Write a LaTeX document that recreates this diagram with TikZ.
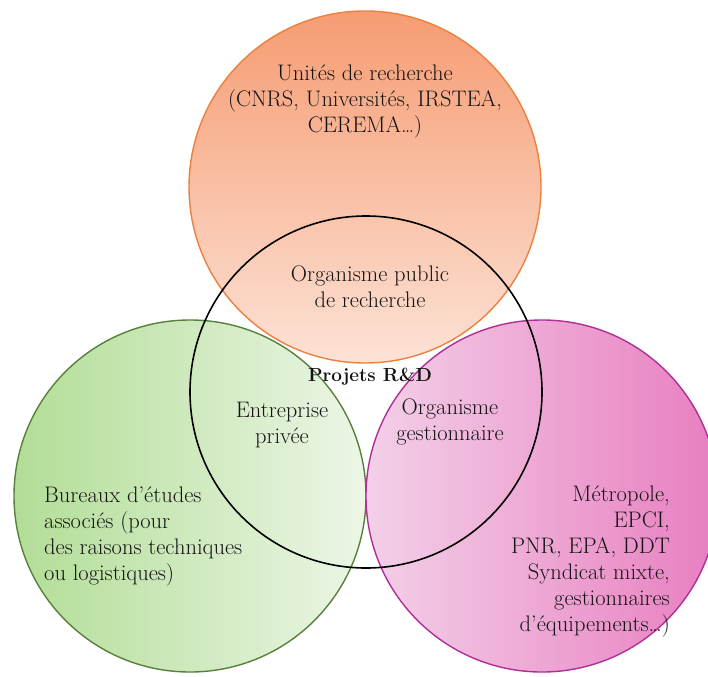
\documentclass[tikz,border=0pt]{standalone}
\usepackage{tikz}
\definecolor{orfill}{RGB}{246,156,114}
\definecolor{orlight}{RGB}{252,226,214}
\definecolor{oredge}{RGB}{236,128,62}
\definecolor{grfill}{RGB}{178,221,150}
\definecolor{grlight}{RGB}{236,246,230}
\definecolor{gredge}{RGB}{88,128,60}
\definecolor{pkfill}{RGB}{232,126,192}
\definecolor{pklight}{RGB}{243,208,232}
\definecolor{pkedge}{RGB}{176,46,150}

\begin{document}
\begin{tikzpicture}[x = 1pt, y = -1pt,
  txt/.style = {font = \fontsize{22.5}{26}\selectfont, text = black!92, align = center, inner sep = 0pt}]
\useasboundingbox (0,0) rectangle (708,676);
\shade[top color = orfill, bottom color = orlight, draw = oredge, line width = 1.4] (365,187) circle (176);
\shade[left color = grfill, right color = grlight, draw = gredge, line width = 1.4] (190,496) circle (176);
\shade[shading = axis, shading angle = 135, left color = pklight, right color = pkfill, draw = pkedge, line width = 1.4] (542,496) circle (176);
\draw[black, line width = 1.6] (366,392) circle (176);
\node[txt] (unites) at (365,101) {Unités de recherche\\(CNRS, Universités, IRSTEA,\\CEREMA\ldots)};
\node[txt] (public) at (370,287) {Organisme public\\de recherche};
\node[txt, font = \fontsize{19}{26}\selectfont\bfseries] (projets) at (370,377) {Projets R\&D};
\node[txt] (privee) at (282,425) {Entreprise\\privée};
\node[txt] (gestion) at (450,422) {Organisme\\gestionnaire};
\node[txt, align = left, anchor = west] (bureaux) at (44,536) {Bureaux d’études\\associés (pour\\des raisons techniques\\ou logistiques)};
\node[txt, align = right, anchor = east] (metro) at (670,561) {Métropole,\\EPCI,\\PNR, EPA, DDT\\Syndicat mixte,\\gestionnaires\\d’équipements\ldots)};
\end{tikzpicture}
\end{document}
